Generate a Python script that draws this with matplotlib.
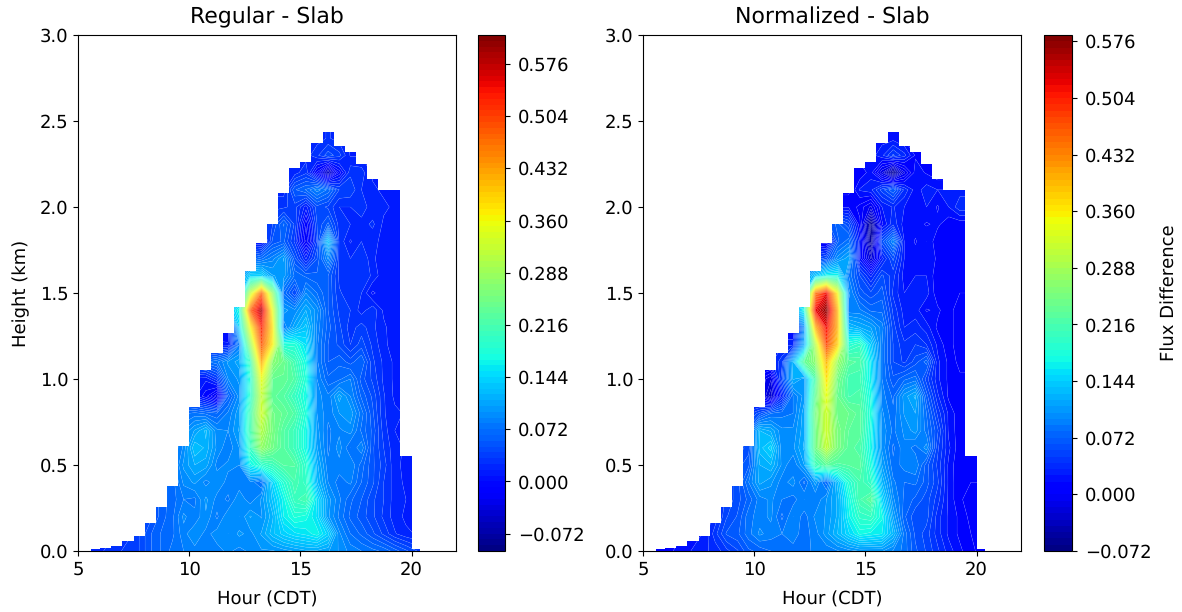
import numpy as np
import matplotlib
matplotlib.use('Agg')
import matplotlib.pyplot as plt
from matplotlib.patches import Polygon

plt.rcParams['text.hinting'] = 'no_hinting'
plt.rcParams['text.hinting_factor'] = 1

# === Grid (cell centres) ===
hours = [5.25, 5.75, 6.25, 6.75, 7.25, 7.75, 8.25, 8.75, 9.25, 9.75, 10.25, 10.75, 11.25, 11.75, 12.25, 12.75,
         13.25, 13.75, 14.25, 14.75, 15.25, 15.75, 16.25, 16.75, 17.25, 17.75, 18.25, 18.75, 19.25, 19.75, 20.25, 20.75]
heights = [0.0, 0.1, 0.2, 0.3, 0.4, 0.5, 0.6, 0.7, 0.8, 0.9, 1.0, 1.1, 1.2,
           1.3, 1.4, 1.5, 1.6, 1.7, 1.8, 1.9, 2.0, 2.1, 2.2, 2.3, 2.4, 2.5]

# === Top of data in each half hour column ===
col_edges = [5.57, 6.0, 6.5, 7.0, 7.5, 8.0, 8.5, 9.0, 9.5, 10.0, 10.5, 11.0, 11.5, 12.0, 12.5, 13.0, 13.5,
             14.0, 14.5, 15.0, 15.5, 16.0, 16.5, 17.0, 17.5, 18.0, 18.5, 19.0, 19.5, 20.0, 20.4]
col_tops = [0.01, 0.02, 0.03, 0.06, 0.09, 0.16, 0.255, 0.38, 0.61, 0.84, 1.05, 1.15, 1.27, 1.42, 1.63,
            1.79, 1.90, 2.08, 2.225, 2.26, 2.37, 2.434, 2.355, 2.32, 2.25, 2.16, 2.10, 2.10, 0.55, 0.01]

# flux difference x 1000, one row per height
regular = [
    [20, 20, 25, 30, 35, 40, 55, 65, 75, 80, 85, 80, 85, 90, 85, 90, 95, 95, 100, 105, 110, 110, 105, 95, 85, 80, 75, 70, 60, 50, 40, 40],
    [20, 20, 20, 25, 30, 40, 55, 65, 70, 85, 95, 85, 92, 88, 98, 93, 105, 125, 140, 150, 155, 165, 140, 90, 72, 62, 50, 38, 25, 18, 15, 15],
    [20, 20, 20, 25, 30, 35, 45, 60, 70, 90, 82, 95, 78, 95, 88, 105, 95, 118, 160, 178, 172, 150, 98, 78, 62, 52, 42, 30, 20, 14, 12, 12],
    [30, 30, 30, 30, 30, 35, 45, 60, 68, 80, 78, 98, 85, 78, 95, 82, 98, 130, 165, 205, 215, 150, 100, 82, 66, 56, 42, 32, 20, 16, 12, 12],
    [40, 40, 40, 40, 40, 40, 50, 60, 68, 90, 98, 85, 94, 85, 82, 86, 70, 145, 185, 215, 195, 122, 88, 76, 82, 64, 50, 32, 20, 14, 12, 12],
    [50, 50, 50, 50, 50, 50, 50, 60, 75, 98, 112, 108, 85, 90, 88, 165, 190, 205, 225, 225, 188, 115, 82, 85, 88, 68, 50, 36, 18, 14, 12, 12],
    [60, 60, 60, 60, 60, 60, 60, 60, 70, 90, 128, 118, 94, 82, 96, 198, 280, 250, 225, 205, 168, 105, 78, 92, 72, 86, 50, 32, 18, 15, 15, 15],
    [60, 60, 60, 60, 60, 60, 60, 60, 70, 88, 105, 122, 90, 88, 105, 212, 305, 255, 225, 205, 168, 100, 78, 86, 92, 70, 54, 28, 16, 15, 15, 15],
    [60, 60, 60, 60, 60, 60, 60, 60, 70, 70, 75, 70, 65, 82, 102, 208, 330, 250, 238, 222, 178, 96, 82, 96, 102, 76, 50, 25, 18, 15, 15, 15],
    [40, 40, 40, 40, 40, 40, 40, 40, 40, 30, 10, -5, -30, 60, 92, 188, 320, 235, 225, 200, 168, 92, 82, 108, 88, 62, 46, 25, 14, 15, 15, 15],
    [20, 20, 20, 20, 20, 20, 20, 20, 20, 20, 10, 10, 30, 88, 98, 178, 355, 240, 238, 222, 178, 88, 66, 70, 80, 52, 38, 22, 14, 15, 15, 15],
    [50, 50, 50, 50, 50, 50, 50, 50, 50, 50, 60, 70, 78, 98, 108, 200, 425, 270, 245, 210, 168, 82, 56, 62, 52, 64, 34, 22, 14, 15, 15, 15],
    [10, 10, 10, 10, 10, 10, 10, 10, 10, 10, 10, 10, 10, 10, 80, 280, 490, 370, 180, 180, 152, 82, 56, 46, 32, 44, 30, 18, 12, 12, 12, 12],
    [0, 0, 0, 0, 0, 0, 0, 0, 0, 0, 0, 0, 0, -5, 140, 360, 530, 380, 80, 110, 132, 86, 60, 42, 28, 36, 26, 18, 10, 10, 10, 10],
    [100, 100, 100, 100, 100, 100, 100, 100, 100, 100, 100, 100, 100, 120, 170, 480, 585, 350, 100, 90, 112, 92, 56, 38, 32, 20, 30, 14, 10, 10, 10, 10],
    [90, 90, 90, 90, 90, 90, 90, 90, 90, 90, 90, 90, 90, 90, 100, 320, 480, 280, 70, 40, 88, 72, 56, 33, 28, 24, 6, 14, 10, 10, 10, 10],
    [80, 80, 80, 80, 80, 80, 80, 80, 80, 80, 80, 80, 80, 80, 90, 140, 140, 105, 100, 70, 62, 58, 56, 30, 28, 32, 22, 10, 10, 10, 10, 10],
    [50, 50, 50, 50, 50, 50, 50, 50, 50, 50, 50, 50, 50, 50, 50, 60, 70, 85, 105, 50, 15, 48, 90, 30, 24, 32, 18, 10, 12, 12, 12, 12],
    [5, 5, 5, 5, 5, 5, 5, 5, 5, 5, 5, 5, 5, 5, 5, 5, 5, 50, 58, 30, -25, 35, 130, 30, 15, 24, 18, 14, 12, 12, 12, 12],
    [40, 40, 40, 40, 40, 40, 40, 40, 40, 40, 40, 40, 40, 40, 40, 40, 40, 40, 65, 38, -15, 40, 58, 28, 24, 20, 26, 14, 14, 14, 14, 14],
    [30, 30, 30, 30, 30, 30, 30, 30, 30, 30, 30, 30, 30, 30, 30, 30, 30, 30, 30, 36, 12, 45, 38, 24, 24, 30, 18, 18, 14, 14, 14, 14],
    [20, 20, 20, 20, 20, 20, 20, 20, 20, 20, 20, 20, 20, 20, 20, 20, 20, 20, 20, 55, 65, 85, 70, 40, 38, 24, 18, 14, 14, 14, 14, 14],
    [20, 20, 20, 20, 20, 20, 20, 20, 20, 20, 20, 20, 20, 20, 20, 20, 20, 20, 20, 20, 30, -10, -55, -5, 30, 28, 14, 14, 14, 14, 14, 14],
    [20, 20, 20, 20, 20, 20, 20, 20, 20, 20, 20, 20, 20, 20, 20, 20, 20, 20, 20, 20, 20, 30, 45, 35, 15, 15, 15, 15, 15, 15, 15, 15],
    [20, 20, 20, 20, 20, 20, 20, 20, 20, 20, 20, 20, 20, 20, 20, 20, 20, 20, 20, 20, 20, 20, 25, 20, 15, 15, 15, 15, 15, 15, 15, 15],
    [20, 20, 20, 20, 20, 20, 20, 20, 20, 20, 20, 20, 20, 20, 20, 20, 20, 20, 20, 20, 20, 20, 25, 20, 15, 15, 15, 15, 15, 15, 15, 15],
]

normalized = [
    [15, 15, 15, 20, 25, 30, 35, 45, 55, 70, 75, 80, 80, 85, 85, 90, 90, 95, 100, 105, 105, 105, 95, 85, 66, 55, 42, 28, 18, 10, 5, 5],
    [15, 15, 15, 15, 20, 25, 45, 65, 70, 85, 98, 92, 88, 92, 84, 92, 108, 128, 150, 170, 165, 160, 128, 85, 62, 52, 36, 22, 14, 8, 5, 5],
    [15, 15, 15, 15, 20, 25, 35, 55, 65, 85, 92, 98, 78, 96, 84, 98, 105, 122, 165, 195, 200, 170, 112, 74, 58, 60, 36, 22, 14, 5, 5, 5],
    [30, 30, 30, 30, 30, 30, 35, 50, 60, 75, 92, 98, 88, 84, 96, 88, 104, 122, 170, 215, 230, 150, 98, 78, 70, 60, 44, 22, 9, 5, 5, 5],
    [40, 40, 40, 40, 40, 40, 40, 50, 60, 88, 115, 106, 92, 100, 78, 108, 75, 132, 185, 215, 195, 128, 90, 80, 82, 68, 50, 22, 9, 8, 8, 8],
    [50, 50, 50, 50, 50, 50, 50, 50, 60, 70, 120, 128, 102, 88, 112, 205, 230, 220, 225, 228, 178, 112, 82, 92, 96, 68, 46, 22, 8, 15, 15, 15],
    [50, 50, 50, 50, 50, 50, 50, 50, 50, 60, 132, 148, 98, 102, 122, 245, 310, 255, 228, 220, 168, 102, 78, 94, 84, 100, 50, 26, 10, 10, 10, 10],
    [60, 60, 60, 60, 60, 60, 60, 60, 60, 70, 128, 118, 98, 98, 118, 245, 320, 255, 232, 228, 172, 102, 86, 98, 108, 84, 58, 22, 11, 10, 10, 10],
    [40, 40, 40, 40, 40, 40, 40, 40, 40, 45, 60, 80, 85, 88, 118, 250, 320, 245, 240, 228, 178, 98, 82, 105, 112, 80, 46, 22, 10, 10, 10, 10],
    [10, 10, 10, 10, 10, 10, 10, 10, 10, 10, 0, -30, 30, 88, 108, 235, 340, 240, 215, 220, 172, 92, 78, 108, 122, 68, 34, 14, 10, 10, 10, 10],
    [0, 0, 0, 0, 0, 0, 0, 0, 0, 0, 0, -15, 55, 122, 108, 218, 370, 250, 212, 210, 162, 88, 66, 78, 84, 52, 26, 14, 10, 10, 10, 10],
    [30, 30, 30, 30, 30, 30, 30, 30, 30, 30, 30, 30, 45, 128, 232, 270, 400, 280, 228, 222, 158, 88, 56, 46, 60, 76, 26, 14, 5, 5, 5, 5],
    [30, 30, 30, 30, 30, 30, 30, 30, 30, 30, 30, 30, 30, 30, 120, 300, 480, 380, 185, 198, 142, 88, 56, 42, 48, 40, 22, 10, 5, 5, 5, 5],
    [10, 10, 10, 10, 10, 10, 10, 10, 10, 10, 10, 10, 10, 10, 100, 400, 520, 400, 130, 120, 112, 92, 52, 32, 36, 28, 14, 10, 5, 5, 5, 5],
    [100, 100, 100, 100, 100, 100, 100, 100, 100, 100, 100, 100, 100, 100, 175, 520, 575, 400, 90, 90, 78, 78, 46, 28, 28, 15, 18, 10, 5, 5, 5, 5],
    [90, 90, 90, 90, 90, 90, 90, 90, 90, 90, 90, 90, 90, 90, 130, 440, 520, 350, 100, 68, 58, 68, 38, 24, 24, 28, 10, 8, 8, 8, 8, 8],
    [90, 90, 90, 90, 90, 90, 90, 90, 90, 90, 90, 90, 90, 90, 100, 140, 170, 170, 88, 56, 30, 58, 43, 20, 24, 24, 10, 10, 8, 8, 8, 8],
    [40, 40, 40, 40, 40, 40, 40, 40, 40, 40, 40, 40, 40, 40, 40, 50, 60, 100, 118, 20, -25, 28, 58, 24, 20, 20, 15, 8, 8, 8, 8, 8],
    [0, 0, 0, 0, 0, 0, 0, 0, 0, 0, 0, 0, 0, 0, 0, 0, 0, 70, 85, 25, -55, 60, 95, 24, 15, 24, 10, 10, 8, 8, 8, 8],
    [60, 60, 60, 60, 60, 60, 60, 60, 60, 60, 60, 60, 60, 60, 60, 60, 60, 75, 58, 10, -58, 14, 38, 20, 20, 15, 18, 10, 10, 10, 10, 10],
    [15, 15, 15, 15, 15, 15, 15, 15, 15, 15, 15, 15, 15, 15, 15, 15, 15, 15, 15, 5, -10, 24, 33, 24, 20, 24, 15, 24, 38, 38, 38, 38],
    [5, 5, 5, 5, 5, 5, 5, 5, 5, 5, 5, 5, 5, 5, 5, 5, 5, 5, 5, 25, 30, 52, 72, 38, 20, 28, 24, 24, 28, 28, 28, 28],
    [10, 10, 10, 10, 10, 10, 10, 10, 10, 10, 10, 10, 10, 10, 10, 10, 10, 10, 10, 10, 20, -15, -58, -10, 20, 15, 10, 10, 10, 10, 10, 10],
    [20, 20, 20, 20, 20, 20, 20, 20, 20, 20, 20, 20, 20, 20, 20, 20, 20, 20, 20, 20, 20, 30, 50, 35, 15, 15, 10, 10, 10, 10, 10, 10],
    [20, 20, 20, 20, 20, 20, 20, 20, 20, 20, 20, 20, 20, 20, 20, 20, 20, 20, 20, 20, 20, 20, 20, 15, 15, 15, 10, 10, 10, 10, 10, 10],
    [20, 20, 20, 20, 20, 20, 20, 20, 20, 20, 20, 20, 20, 20, 20, 20, 20, 20, 20, 20, 20, 20, 20, 15, 15, 15, 10, 10, 10, 10, 10, 10],
]

cb_ticks = [-0.072, 0.0, 0.072, 0.144, 0.216, 0.288, 0.36, 0.432, 0.504, 0.576]
W, H = 1182, 612


def stair_outline():
    pts = [(col_edges[0], 0)]
    for i, top in enumerate(col_tops):
        pts.append((col_edges[i], top))
        pts.append((col_edges[i + 1], top))
    pts.append((col_edges[-1], 0))
    return pts


def panel(box, cbox, data, levels, title):
    ax = fig.add_axes([box[0] / W, 1 - box[3] / H, (box[2] - box[0]) / W, (box[3] - box[1]) / H])
    z = np.array(data) / 1000.0
    cf = ax.contourf(hours, heights, z, levels=levels, cmap='jet', antialiased=True)
    # light seams between the filled bands, only the blue part of the scale
    seams = ax.contour(hours, heights, z, levels=levels[levels < 0.2], colors='white', linewidths=0.3, alpha=0.18)
    clip = Polygon(stair_outline(), closed=True, transform=ax.transData, fill=False, edgecolor='none')
    ax.add_patch(clip)
    cf.set_clip_path(clip)
    seams.set_clip_path(clip)
    ax.set_xlim(5, 22)
    ax.set_ylim(0, 3)
    ax.set_xticks([5, 10, 15, 20])
    ax.set_yticks([0, 0.5, 1.0, 1.5, 2.0, 2.5, 3.0])
    ax.set_xlabel('Hour (CDT)', fontsize=13, labelpad=9)
    ax.set_title(title, fontsize=15.7, pad=8)
    cax = fig.add_axes([cbox[0] / W, 1 - cbox[3] / H, (cbox[2] - cbox[0]) / W, (cbox[3] - cbox[1]) / H])
    cb = fig.colorbar(cf, cax=cax, ticks=cb_ticks)
    cb.ax.tick_params(labelsize=13, pad=6)
    ax.tick_params(labelsize=13)
    return ax, cb


fig = plt.figure(figsize=(W / 100, H / 100), dpi=100)

ax1, cb1 = panel((78, 35, 456, 551), (478, 35, 505, 551), regular, np.arange(-0.096, 0.617, 0.008), 'Regular - Slab')
ax2, cb2 = panel((643, 35, 1021, 551), (1044, 35, 1072, 551), normalized, np.arange(-0.072, 0.585, 0.008), 'Normalized - Slab')
ax1.set_ylabel('Height (km)', fontsize=13, labelpad=7)
cb2.set_label('Flux Difference', fontsize=13, labelpad=6)

fig.savefig('out.png', dpi=100)
